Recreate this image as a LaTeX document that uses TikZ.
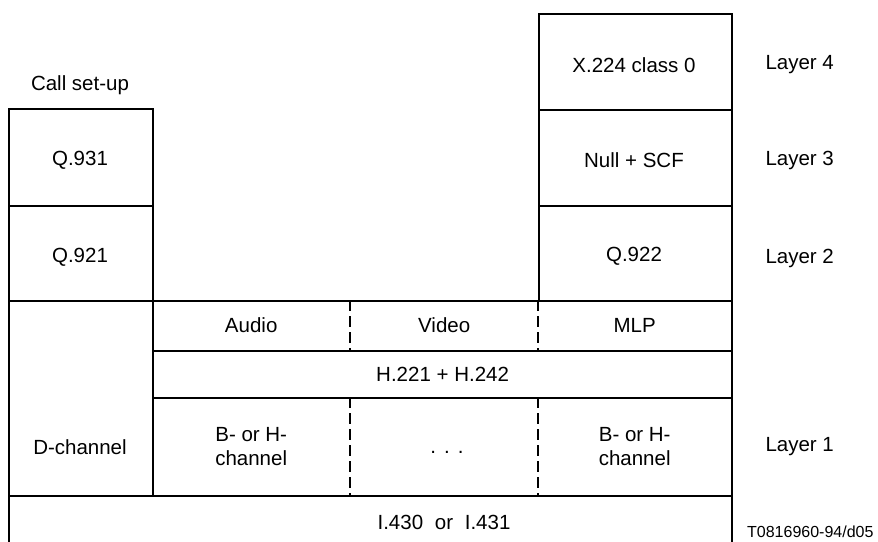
\documentclass[tikz,border=0pt]{standalone}
\usepackage{fontspec}
\setmainfont{Liberation Sans}
\begin{document}
\begin{tikzpicture}[x=1pt,y=-1pt,
  box/.style={draw, line width=2.2pt, inner sep=0pt, align=center, anchor=north west},
  cell/.style={inner sep=0pt, align=center, anchor=north west},
  dashline/.style={line width=2pt, dash pattern=on 11pt off 5pt},
  every node/.style={font=\fontsize{20.5}{24}\selectfont}]
\useasboundingbox (0,0) rectangle (878,541);
% left column
\node[box, minimum width=144pt, minimum height=97pt] (q931) at (8,108) {};
\node (q931t) at (80,160) {Q.931};
\node[box, minimum width=144pt, minimum height=95pt] (q921) at (8,205) {};
\node (q921t) at (80,257) {Q.921};
\node[box, minimum width=144pt, minimum height=195pt] (dch) at (8,300) {};
\node (dcht) at (80,447) {D-channel};
\node (setup) at (80,85) {Call set-up};
% right column
\node[box, minimum width=193pt, minimum height=96pt] (x224) at (538,13) {};
\node (x224t) at (634,65) {X.224 class 0};
\node[box, minimum width=193pt, minimum height=96pt] (nullscf) at (538,109) {};
\node (nullt) at (634,160) {Null + SCF};
\node[box, minimum width=193pt, minimum height=95pt] (q922) at (538,205) {};
\node (q922t) at (634,256) {Q.922};
% middle rows
\node[box, minimum width=579pt, minimum height=50pt] (toprow) at (152,300) {};
\node[cell, minimum width=198pt, minimum height=50pt] (audio) at (152,300) {Audio};
\node[cell, minimum width=188pt, minimum height=50pt] (video) at (350,300) {Video};
\node[cell, minimum width=193pt, minimum height=50pt] (mlp) at (538,300) {MLP};
\draw[dashline] (audio.north east) -- (audio.south east);
\draw[dashline] (video.north east) -- (video.south east);
\node[box, minimum width=579pt, minimum height=47pt] (h221) at (152,350) {H.221 + H.242};
\node[box, minimum width=579pt, minimum height=98pt] (botrow) at (152,397) {};
\node[cell, minimum width=198pt, minimum height=98pt] (bch1) at (152,397) {B- or H-\\channel};
\node[cell, minimum width=188pt, minimum height=98pt] (dots) at (350,397) {};
\node (dotst) at (447,452) {.\hspace{8pt}.\hspace{8pt}.};
\node[cell, minimum width=193pt, minimum height=98pt] (bch2) at (538,397) {B- or H-\\channel};
\draw[dashline] (bch1.north east) -- (bch1.south east);
\draw[dashline] (dots.north east) -- (dots.south east);
% physical
\node[box, minimum width=723pt, minimum height=55pt] (i430) at (8,495) {};
\node (i430t) at (444,522) {I.430\hspace{6pt} or\hspace{6pt} I.431};
% layers
\node[anchor=west] (l4) at (762,65) {Layer 4};
\node[anchor=west] (l3) at (762,160) {Layer 3};
\node[anchor=west] (l2) at (762,258) {Layer 2};
\node[anchor=west] (l1) at (762,447) {Layer 1};
\node[anchor=east, font=\fontsize{16}{19}\selectfont] (ref) at (877,532) {T0816960-94/d05};
\end{tikzpicture}
\end{document}
